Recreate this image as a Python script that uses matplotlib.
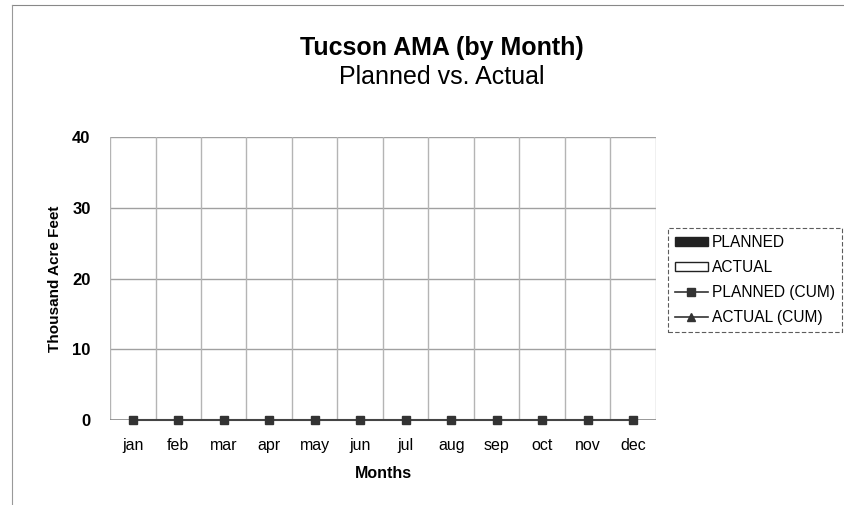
import numpy as np
import matplotlib
matplotlib.use("Agg")
import matplotlib.pyplot as plt
from matplotlib.lines import Line2D
from matplotlib.patches import Patch

plt.rcParams['font.family'] = ['Liberation Sans', 'DejaVu Sans']

months = ['jan', 'feb', 'mar', 'apr', 'may', 'jun', 'jul', 'aug', 'sep', 'oct', 'nov', 'dec']
planned = [0, 0, 0, 0, 0, 0, 0, 0, 0, 0, 0, 0]
actual = [0, 0, 0, 0, 0, 0, 0, 0, 0, 0, 0, 0]
planned_cum = [0, 0, 0, 0, 0, 0, 0, 0, 0, 0, 0, 0]
actual_cum = [np.nan] * 12  # nothing reported yet

fig = plt.figure(figsize=(8.45, 5.05), dpi=100)
ax = fig.add_axes([0.1302, 0.1683, 0.646, 0.5604])

x = np.arange(len(months))
ax.bar(x - 0.2, planned, width=0.4, color='#222222', edgecolor='none')
ax.bar(x + 0.2, actual, width=0.4, color='white', edgecolor='none')
ax.plot(x, planned_cum, color='#444444', lw=1.5, marker='s', ms=5.5,
        mfc='#333333', mec='#333333', zorder=5, clip_on=False)
ax.plot(x, actual_cum, color='#333333', lw=1.2, marker='^', ms=6, zorder=5,
        clip_on=False)

ax.set_xlim(-0.5, 11.5)
ax.set_ylim(0, 40)
ax.set_yticks([0, 10, 20, 30, 40])
ax.set_xticks(x)
ax.set_xticklabels(months, fontsize=11.5)
ax.tick_params(axis='x', length=0, pad=13)
ax.tick_params(axis='y', length=0, labelsize=12, pad=14)
for t in ax.get_yticklabels():
    t.set_fontweight('bold')

# gridlines: horizontal at value ticks, vertical between categories
for v in [10, 20, 30, 40]:
    ax.axhline(v, color='#a0a0a0', lw=1.0, zorder=0)
for b in np.arange(-0.5, 12, 1):
    ax.axvline(b, color='#b4b4b4', lw=1.0, zorder=0)
ax.axhline(0, color='#888888', lw=1.2, zorder=1)
for s in ax.spines.values():
    s.set_visible(False)

ax.set_xlabel('Months', fontsize=11.5, fontweight='bold', labelpad=9)
ax.set_ylabel('Thousand Acre Feet', fontsize=11, fontweight='bold', labelpad=7)

fig.text(0.523, 0.905, 'Tucson AMA (by Month)', ha='center', va='center',
         fontsize=18, fontweight='bold')
fig.text(0.523, 0.847, 'Planned vs. Actual', ha='center', va='center', fontsize=18)

handles = [
    Patch(facecolor='#222222', edgecolor='#222222'),
    Patch(facecolor='white', edgecolor='#222222'),
    Line2D([], [], color='#333333', marker='s', ms=6, lw=1.2),
    Line2D([], [], color='#333333', marker='^', ms=6, lw=1.2),
]
labels = ['PLANNED', 'ACTUAL', 'PLANNED (CUM)', 'ACTUAL (CUM)']
leg = fig.legend(handles, labels, loc='upper left', bbox_to_anchor=(0.7905, 0.5485),
                 fontsize=11.2, frameon=True, fancybox=False, handlelength=2.1,
                 handleheight=0.45, handletextpad=0.25, borderpad=0.45,
                 labelspacing=0.65, borderaxespad=0)
leg.get_frame().set_edgecolor('#333333')
leg.get_frame().set_linestyle((0, (4, 2)))
leg.get_frame().set_linewidth(0.8)

# scanned outer border
fig.add_artist(Line2D([0.014, 1.0], [0.99, 0.99], color='#888888', lw=0.8))
fig.add_artist(Line2D([0.014, 0.014], [0.0, 0.99], color='#999999', lw=0.8))

fig.savefig('out.png', dpi=100)
